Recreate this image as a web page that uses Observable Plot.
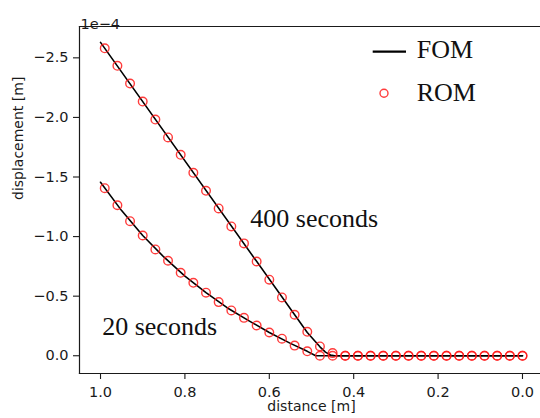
<!DOCTYPE html>
<html>
<head>
<meta charset="utf-8">
<script src="https://cdn.jsdelivr.net/npm/d3@7"></script>
<script src="https://cdn.jsdelivr.net/npm/@observablehq/plot@0.6"></script>
<style>
  html, body { margin: 0; padding: 0; background: white; overflow: hidden; }
  #wrap { position: relative; width: 540px; height: 418px; }
  #legend { position: absolute; left: 0; top: 0; pointer-events: none; }
</style>
</head>
<body>
<div id="wrap"></div>
<script>
// Values in units of 1e-4 m (displacement), distance in m
const romX = [0.99,0.96,0.93,0.90,0.87,0.84,0.81,0.78,0.75,0.72,0.69,0.66,0.63,0.60,0.57,0.54,0.51,0.48,0.45,0.42,0.39,0.36,0.33,0.30,0.27,0.24,0.21,0.18,0.15,0.12,0.09,0.06,0.03,0.00];
const rom400 = [-2.58,-2.433,-2.284,-2.133,-1.982,-1.832,-1.686,-1.535,-1.384,-1.236,-1.085,-0.943,-0.791,-0.638,-0.489,-0.344,-0.201,-0.078,-0.022,0,0,0,0,0,0,0,0,0,0,0,0,0,0,0];
const rom20 = [-1.406,-1.263,-1.129,-1.009,-0.892,-0.797,-0.696,-0.612,-0.529,-0.45,-0.38,-0.318,-0.254,-0.195,-0.143,-0.085,-0.037,0,0,0,0,0,0,0,0,0,0,0,0,0,0,0,0,0];

const fom400X = [1.0,0.51,0.48,0.467,0.455,0.445,0.0];
const fom400 = [-2.63,-0.195,-0.075,-0.03,-0.006,0,0];
const fom20X = [1.0,0.95,0.90,0.85,0.80,0.75,0.70,0.65,0.60,0.55,0.51,0.49,0.0];
const fom20 = [-1.456,-1.218,-1.009,-0.829,-0.668,-0.529,-0.403,-0.297,-0.195,-0.104,-0.037,0,0];

const labelText = ["400 seconds", "20 seconds"];
const labelX = [0.645, 0.996];
const labelY = [-1.148, -0.248];

const xTicks = [1.0, 0.8, 0.6, 0.4, 0.2, 0.0];
const yTicks = [0.0, -0.5, -1.0, -1.5, -2.0, -2.5];
const scaleNote = "1e\u22124";
const xLabel = "distance [m]";
const yLabel = "displacement [m]";
const legendItems = ["FOM", "ROM"];

const rom = [
  ...romX.map((x, i) => ({x, y: rom400[i], s: "400"})),
  ...romX.map((x, i) => ({x, y: rom20[i], s: "20"}))
];
const fom = [
  ...fom400X.map((x, i) => ({x, y: fom400[i], s: "400"})),
  ...fom20X.map((x, i) => ({x, y: fom20[i], s: "20"}))
];
const labels = labelText.map((t, i) => ({t, x: labelX[i], y: labelY[i]}));

const yFmt = d => d === 0 ? "0.0" : (d < 0 ? "\u2212" : "") + Math.abs(d).toFixed(1);
const xFmt = d => d.toFixed(1);
const ink = "#1a1a1a";

const chart = Plot.plot({
  width: 540, height: 418,
  marginLeft: 79, marginRight: 0, marginTop: 26, marginBottom: 45,
  style: {fontFamily: "'DejaVu Sans', sans-serif", fontSize: "14.5px", color: ink, background: "white"},
  x: {domain: [1.0498, -0.0427]},
  y: {domain: [0.149, -2.763]},
  marks: [
    Plot.axisX({ticks: xTicks, tickFormat: xFmt, tickSize: 6, tickPadding: 7, label: null, stroke: ink, strokeWidth: 1.1}),
    Plot.axisY({ticks: yTicks, tickFormat: yFmt, tickSize: 6, tickPadding: 5, label: null, stroke: ink, strokeWidth: 1.1}),
    Plot.frame({anchor: "left", stroke: ink, strokeWidth: 1.2}),
    Plot.frame({anchor: "top", stroke: ink, strokeWidth: 1.2}),
    Plot.frame({anchor: "bottom", stroke: ink, strokeWidth: 1.2}),
    Plot.line(fom, {x: "x", y: "y", z: "s", stroke: "black", strokeWidth: 1.6}),
    Plot.dot(rom, {x: "x", y: "y", r: 4.3, stroke: "#ff1a1a", strokeOpacity: 0.85, strokeWidth: 1.4, fill: "none"}),
    Plot.text(labels, {x: "x", y: "y", text: "t", textAnchor: "start", fontFamily: "'Liberation Serif', serif", fontSize: 26, fill: "#111"}),
    Plot.text([scaleNote], {frameAnchor: "top-left", text: d => d, textAnchor: "start", dx: 1, dy: -7.5, fontSize: 14.5}),
    Plot.text([xLabel], {frameAnchor: "bottom", text: d => d, dx: 1.5, dy: 37, fontSize: 14}),
    Plot.text([yLabel], {frameAnchor: "left", text: d => d, rotate: -90, dx: -61, fontSize: 14})
  ]
});

const wrap = document.getElementById("wrap");
wrap.appendChild(chart);

// Legend overlay
const ns = "http://www.w3.org/2000/svg";
const lg = document.createElementNS(ns, "svg");
lg.setAttribute("id", "legend");
lg.setAttribute("width", 540);
lg.setAttribute("height", 418);
const mk = (tag, attrs, txt) => {
  const e = document.createElementNS(ns, tag);
  for (const k in attrs) e.setAttribute(k, attrs[k]);
  if (txt) e.textContent = txt;
  lg.appendChild(e);
  return e;
};
mk("line", {x1: 372.7, x2: 406, y1: 51.7, y2: 51.7, stroke: "black", "stroke-width": 2.2});
mk("circle", {cx: 384, cy: 93.3, r: 4, fill: "none", stroke: "#ff1a1a", "stroke-opacity": 0.85, "stroke-width": 1.4});
mk("text", {x: 416.7, y: 58.3, "font-family": "'Liberation Serif', serif", "font-size": 26, fill: "#111"}, legendItems[0]);
mk("text", {x: 416.7, y: 101, "font-family": "'Liberation Serif', serif", "font-size": 26, fill: "#111"}, legendItems[1]);
wrap.appendChild(lg);
</script>
</body>
</html>
